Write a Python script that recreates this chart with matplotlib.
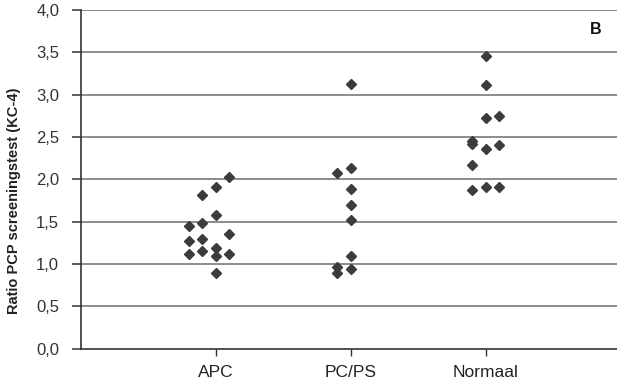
import numpy as np
import matplotlib
matplotlib.use("Agg")
import matplotlib.pyplot as plt
from matplotlib.ticker import FuncFormatter

plt.rcParams["font.family"] = ["Liberation Sans", "DejaVu Sans"]

groups = ["APC", "PC/PS", "Normaal"]

# per group: ratio values and the column slot each diamond sits in
apc_vals = [2.03, 1.91, 1.82, 1.58, 1.49, 1.45, 1.36, 1.27, 1.30, 1.12, 1.15, 1.19, 1.09, 1.12, 0.90]
apc_slot = [1, 0, -1, 0, -1, -2, 1, -2, -1, -2, -1, 0, 0, 1, 0]

pcps_vals = [3.13, 2.14, 2.07, 1.89, 1.70, 1.52, 1.09, 0.97, 0.94, 0.90]
pcps_slot = [0, 0, -1, 0, 0, 0, 0, -1, 0, -1]

norm_vals = [3.46, 3.11, 2.72, 2.75, 2.45, 2.42, 2.36, 2.41, 2.17, 1.87, 1.91, 1.91]
norm_slot = [0, 0, 0, 1, -1, -1, 0, 1, -1, -1, 0, 1]

yticks = [0.0, 0.5, 1.0, 1.5, 2.0, 2.5, 3.0, 3.5, 4.0]

fig = plt.figure(figsize=(6.17, 3.85), dpi=100)
ax = fig.add_axes([0.1308, 0.094, 0.8692, 0.88])

for ypos in yticks[1:]:
    ax.axhline(ypos, color="#6e6e6e", lw=1.1, zorder=1)

step = 0.1
for i, (vals, slots) in enumerate([(apc_vals, apc_slot),
                                   (pcps_vals, pcps_slot),
                                   (norm_vals, norm_slot)]):
    x = (i + 1) + np.array(slots) * step
    ax.plot(x, vals, "D", color="#3c3c3c", ms=5.5, mec="#3c3c3c", zorder=3)

ax.set_xlim(0, 3.97)
ax.set_ylim(0, 4.0)
ax.set_xticks([1, 2, 3])
ax.set_xticklabels(groups, fontsize=12.5, color="#222222")
ax.set_yticks(yticks)
ax.yaxis.set_major_formatter(FuncFormatter(lambda v, p: f"{v:.1f}".replace(".", ",")))
ax.tick_params(axis="y", labelsize=12, labelcolor="#333333", length=6.5,
               width=1.1, color="#333333", pad=9)
ax.tick_params(axis="x", length=5, width=1.0, color="#333333", pad=7)

for s in ["top", "right"]:
    ax.spines[s].set_visible(False)
for s in ["left", "bottom"]:
    ax.spines[s].set_color("#333333")
    ax.spines[s].set_linewidth(1.2)

ax.set_ylabel("Ratio PCP screeningstest (KC-4)", fontsize=10.5, fontweight="bold",
              color="#222222")
ax.yaxis.set_label_coords(-0.111, 0.436)
ax.text(0.96, 0.941, "B", transform=ax.transAxes, fontsize=11.5, fontweight="bold",
        ha="center", va="center", color="#111111")

fig.savefig("out.png", dpi=100)
